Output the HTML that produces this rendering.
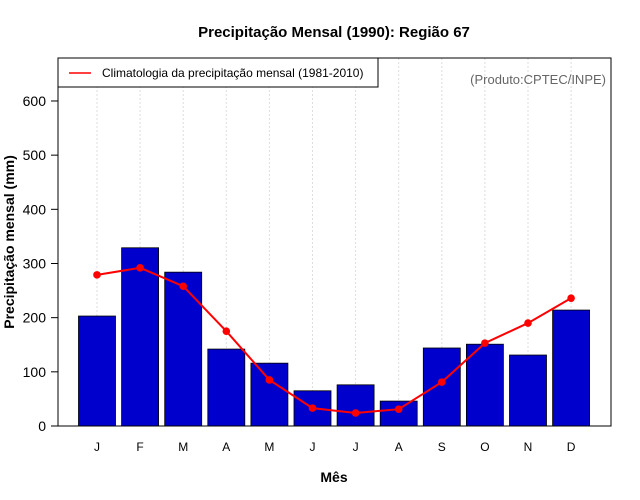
<!DOCTYPE html>
<html><head><meta charset="utf-8"><style>
body{margin:0;background:#fff;}
svg{display:block;font-family:"Liberation Sans",sans-serif;}
</style></head><body>
<svg id="c" width="640" height="500" viewBox="0 0 640 500">
<text x="334" y="37" text-anchor="middle" font-size="15" font-weight="bold">Precipitação Mensal (1990): Região 67</text>
<text x="334" y="482" text-anchor="middle" font-size="14" font-weight="bold">Mês</text>
<text transform="translate(14,242) rotate(-90)" text-anchor="middle" font-size="14" font-weight="bold">Precipitação mensal (mm)</text>
<g id="grid"></g><g id="bars"></g><g id="line"></g><g id="axes"></g>
<rect x="58" y="58" width="553" height="368" fill="none" stroke="#000" stroke-width="1"/>
<g>
<rect x="58" y="58" width="320" height="29" fill="#fff" stroke="#000" stroke-width="1"/>
<line x1="69" y1="73" x2="91" y2="73" stroke="#f00" stroke-width="1.5"/>
<text x="102" y="77" font-size="12">Climatologia da precipitação mensal (1981-2010)</text>
</g>
<text x="606" y="84" text-anchor="end" font-size="13" fill="#666">(Produto:CPTEC/INPE)</text>
</svg>
<script>
const months=["J","F","M","A","M","J","J","A","S","O","N","D"];
const observed=[203,329,284,142,116,65,76,46,144,151,131,214];
const climatology=[279,292,258,175,85,33,24,31,81,153,190,236];
const yTicks=[0,100,200,300,400,500,600];
const NS="http://www.w3.org/2000/svg";
const x=i=>97+i*43.1;
const y=v=>426-v*0.5417;
function mk(t,a,p){const e=document.createElementNS(NS,t);for(const k in a)e.setAttribute(k,a[k]);p.appendChild(e);return e;}
const G=document.getElementById('grid'),B=document.getElementById('bars'),L=document.getElementById('line'),A=document.getElementById('axes');
months.forEach((m,i)=>{
 const g=mk('line',{x1:x(i),x2:x(i),y1:58,y2:426,stroke:'#ddd','stroke-dasharray':'2,2'},G);
 
 
 const b=mk('rect',{x:x(i)-18.5,y:y(observed[i]),width:37,height:426-y(observed[i]),fill:'#0000cd',stroke:'#000','stroke-width':0.8},B);
 
 
 const t=mk('text',{x:x(i),y:451,'text-anchor':'middle','font-size':12},A);
 t.textContent=m;
 
 
});
const pl=mk('polyline',{points:climatology.map((v,i)=>x(i)+','+y(v)).join(' '),fill:'none',stroke:'#f00','stroke-width':2},L);


climatology.forEach((v,i)=>{
 const c=mk('circle',{cx:x(i),cy:y(v),r:3.8,fill:'#f00'},L);
 
 
});
yTicks.forEach(v=>{
 const tl=mk('line',{x1:51,x2:58,y1:y(v),y2:y(v),stroke:'#000'},A);
 
 
 const t=mk('text',{x:46,y:y(v)+5,'text-anchor':'end','font-size':14},A);
 t.textContent=v;
 
 
});
const ax=mk('line',{x1:58,x2:58,y1:y(0),y2:y(600),stroke:'#000'},A);


</script>
</body></html>
